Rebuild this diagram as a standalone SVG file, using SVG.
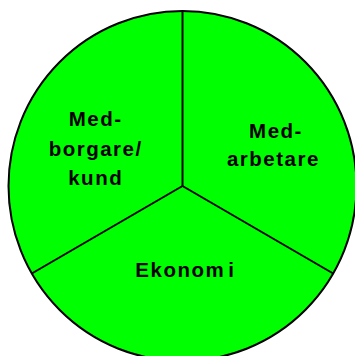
<svg xmlns="http://www.w3.org/2000/svg" width="355" height="356" viewBox="0 0 355 356">
<style>
.sector{fill:#00ff00;stroke:none}
.lbl{font-family:"Liberation Sans",Arial,sans-serif;font-weight:bold;font-size:20.5px;letter-spacing:1.5px;fill:#000;text-anchor:middle}
.edge{stroke:#000;fill:none;stroke-width:2}
</style>
<rect width="355" height="356" fill="#fff"/>
<g id="medarbetare">
<path class="sector" d="M182.5,186 L182.5,11 A174,175 0 0,1 333.2,273.5 Z"/>
<text class="lbl" x="276" y="138">Med-</text>
<text class="lbl" x="273.4" y="166">arbetare</text>
</g>
<g id="ekonomi">
<path class="sector" d="M182.5,186 L333.2,273.5 A174,175 0 0,1 31.8,273.5 Z"/>
<text class="lbl" x="185.4" y="276.7">Ekonom<tspan dx="3">i</tspan></text>
</g>
<g id="medborgare">
<path class="sector" d="M182.5,186 L31.8,273.5 A174,175 0 0,1 182.5,11 Z"/>
<text class="lbl" x="95.7" y="126">Med-</text>
<text class="lbl" x="95.7" y="155.5">borgare/</text>
<text class="lbl" x="95.7" y="185">kund</text>
</g>
<g id="connectors">
<ellipse class="edge" cx="182.5" cy="186" rx="174" ry="175"/>
<line class="edge" x1="182.5" y1="11" x2="182.5" y2="186" stroke-width="3"/>
<line class="edge" x1="182.5" y1="186" x2="333.2" y2="273.5"/>
<line class="edge" x1="182.5" y1="186" x2="31.8" y2="273.5"/>
</g>
</svg>
